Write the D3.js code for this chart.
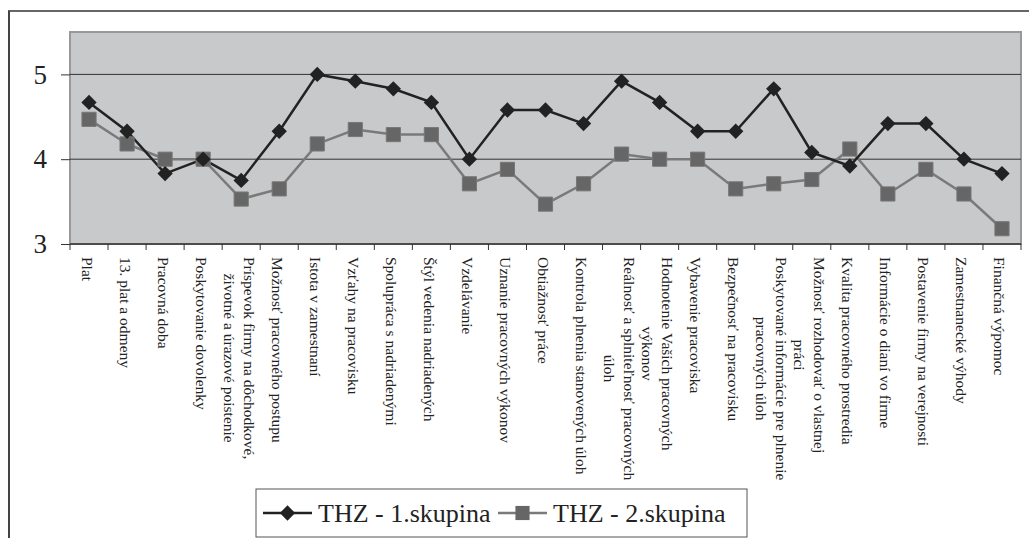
<!DOCTYPE html>
<html>
<head>
<meta charset="utf-8">
<script src="https://cdn.jsdelivr.net/npm/d3@7"></script>
<style>
  body { margin: 0; background: #fff; }
  svg text { font-family: "Liberation Serif", "Times New Roman", Times, "DejaVu Serif", serif; }
</style>
</head>
<body>
<script>
// categories (each entry = lines of the rotated tick label)
const categories = [
  ['Plat'],
  ['13. plat a odmeny'],
  ['Pracovná doba'],
  ['Poskytovanie dovolenky'],
  ['Príspevok firmy na dôchodkové,', 'životné a úrazové poistenie'],
  ['Možnosť pracovného postupu'],
  ['Istota v zamestnaní'],
  ['Vzťahy na pracovisku'],
  ['Spolupráca s nadriadenými'],
  ['Štýl vedenia nadriadených'],
  ['Vzdelávanie'],
  ['Uznanie pracovných výkonov'],
  ['Obtiažnosť práce'],
  ['Kontrola plnenia stanovených úloh'],
  ['Reálnosť a splniteľnosť pracovných', 'úloh'],
  ['Hodnotenie Vašich pracovných', 'výkonov'],
  ['Vybavenie pracoviska'],
  ['Bezpečnosť na pracovisku'],
  ['Poskytované informácie pre plnenie', 'pracovných úloh'],
  ['Možnosť rozhodovať o vlastnej', 'práci'],
  ['Kvalita pracovného prostredia'],
  ['Informácie o dianí vo firme'],
  ['Postavenie firmy na verejnosti'],
  ['Zamestnanecké výhody'],
  ['Finančná výpomoc']
]

const group1 = [4.67, 4.33, 3.83, 4.0, 3.75, 4.33, 5.0, 4.92, 4.83, 4.67, 4.0, 4.58, 4.58,
  4.42, 4.92, 4.67, 4.33, 4.33, 4.83, 4.08, 3.92, 4.42, 4.42, 4.0, 3.83]
const group2 = [4.47, 4.18, 4.0, 4.0, 3.53, 3.65, 4.18, 4.35, 4.29, 4.29, 3.71, 3.88, 3.47,
  3.71, 4.06, 4.0, 4.0, 3.65, 3.71, 3.76, 4.12, 3.59, 3.88, 3.59, 3.18]

const seriesNames = ['THZ - 1.skupina', 'THZ - 2.skupina']
const yTicks = [3, 4, 5]

const serif = '"Liberation Serif", "Times New Roman", Times, "DejaVu Serif", serif'

const width = 1029
const height = 538
const plot = { left: 70, right: 1021, top: 32, bottom: 244 }

const svg = d3.select('body').append('svg')
  .attr('width', width)
  .attr('height', height)

// outer frame (top + left edges visible)
svg.append('line')
  .attr('x1', 8).attr('x2', width).attr('y1', 11).attr('y2', 11)
  .attr('stroke', '#333').attr('stroke-width', 1.5)
svg.append('line')
  .attr('x1', 9).attr('x2', 9).attr('y1', 11).attr('y2', height)
  .attr('stroke', '#444').attr('stroke-width', 2)

const x = d3.scaleBand()
  .domain(d3.range(categories.length))
  .range([plot.left, plot.right])
  .padding(0)

const y = d3.scaleLinear()
  .domain([3, 5.5])
  .range([plot.bottom, plot.top])

// plot area
svg.append('rect')
  .attr('x', plot.left).attr('y', plot.top)
  .attr('width', plot.right - plot.left)
  .attr('height', plot.bottom - plot.top)
  .attr('fill', '#c8c9cb')
  .attr('stroke', '#999')
  .attr('stroke-width', 2)

// gridlines
svg.append('g')
  .selectAll('line')
  .data(yTicks.filter(d => d > 3))
  .join('line')
  .attr('x1', plot.left).attr('x2', plot.right)
  .attr('y1', d => y(d)).attr('y2', d => y(d))
  .attr('stroke', '#333').attr('stroke-width', 1)

// y axis
const yAxis = svg.append('g')
  .attr('transform', `translate(${plot.left},0)`)
  .call(d3.axisLeft(y).tickValues(yTicks).tickSize(9).tickPadding(14).tickFormat(d3.format('d')))
yAxis.attr('font-family', serif)
yAxis.select('.domain').remove()
yAxis.selectAll('.tick line').attr('stroke', '#333')
yAxis.selectAll('.tick text')
  .attr('font-family', serif)
  .attr('font-size', 27)
  .attr('fill', '#222')

// x axis line + ticks at band edges
svg.append('line')
  .attr('x1', plot.left).attr('x2', plot.right)
  .attr('y1', plot.bottom).attr('y2', plot.bottom)
  .attr('stroke', '#333').attr('stroke-width', 1.5)
svg.append('g')
  .selectAll('line')
  .data(d3.range(categories.length + 1))
  .join('line')
  .attr('x1', d => plot.left + d * x.bandwidth())
  .attr('x2', d => plot.left + d * x.bandwidth())
  .attr('y1', plot.bottom).attr('y2', plot.bottom + 6)
  .attr('stroke', '#333')

// rotated category labels
const lh = 20
const labels = svg.append('g')
  .selectAll('g')
  .data(categories)
  .join('g')
  .attr('transform', (d, i) => `translate(${x(i) + x.bandwidth() / 2 - 2},257) rotate(90)`)

labels.each(function (lines) {
  const g = d3.select(this)
  const texts = lines.map((t, j) => g.append('text')
    .attr('font-family', serif)
    .attr('font-size', 15.5)
    .attr('fill', '#222')
    .attr('dominant-baseline', 'central')
    .attr('y', (j - (lines.length - 1) / 2) * lh)
    .text(t))
  const widths = texts.map(t => t.node().getComputedTextLength())
  const maxW = d3.max(widths)
  texts.forEach((t, j) => t.attr('x', (maxW - widths[j]) / 2))
})

// lines
const line = d3.line()
  .x((d, i) => x(i) + x.bandwidth() / 2)
  .y(d => y(d))

svg.append('path')
  .datum(group2)
  .attr('d', line)
  .attr('fill', 'none')
  .attr('stroke', '#7a7a7a')
  .attr('stroke-width', 2.5)

svg.append('path')
  .datum(group1)
  .attr('d', line)
  .attr('fill', 'none')
  .attr('stroke', '#222')
  .attr('stroke-width', 2.5)

const diamond = d3.symbol().type(d3.symbolDiamond2).size(150)
const square = d3.symbol().type(d3.symbolSquare).size(200)

svg.append('g')
  .selectAll('path')
  .data(group2)
  .join('path')
  .attr('transform', (d, i) => `translate(${x(i) + x.bandwidth() / 2},${y(d)})`)
  .attr('d', square)
  .attr('fill', '#666')
  .attr('stroke', '#777')
  .attr('stroke-width', 1)

svg.append('g')
  .selectAll('path')
  .data(group1)
  .join('path')
  .attr('transform', (d, i) => `translate(${x(i) + x.bandwidth() / 2},${y(d)})`)
  .attr('d', diamond)
  .attr('fill', '#222')

// legend
const legend = svg.append('g')
legend.append('rect')
  .attr('x', 256).attr('y', 489)
  .attr('width', 491).attr('height', 48)
  .attr('fill', '#fff')
  .attr('stroke', '#555')
  .attr('stroke-width', 1)

const legendItems = [
  { name: seriesNames[0], x0: 263, color: '#222', marker: diamond, fill: '#222' },
  { name: seriesNames[1], x0: 498, color: '#7a7a7a', marker: square, fill: '#666' }
]
legendItems.forEach(it => {
  legend.append('line')
    .attr('x1', it.x0).attr('x2', it.x0 + 49)
    .attr('y1', 513).attr('y2', 513)
    .attr('stroke', it.color).attr('stroke-width', 2.5)
  legend.append('path')
    .attr('transform', `translate(${it.x0 + 24.5},513)`)
    .attr('d', it.marker)
    .attr('fill', it.fill)
  legend.append('text')
    .attr('x', it.x0 + 55)
    .attr('y', 522)
    .attr('font-family', serif)
    .attr('font-size', 26)
    .attr('fill', '#222')
    .text(it.name)
})
</script>
</body>
</html>
